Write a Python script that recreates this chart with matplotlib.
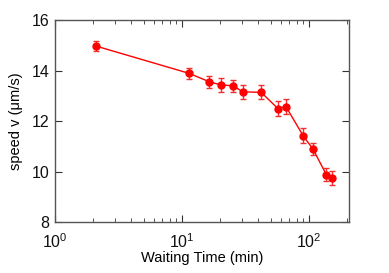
import matplotlib
matplotlib.use("Agg")
import matplotlib.pyplot as plt
from matplotlib.ticker import LogLocator, NullFormatter

plt.rcParams['font.family'] = ['Liberation Sans', 'DejaVu Sans']
plt.rcParams['mathtext.fontset'] = 'custom'
plt.rcParams['mathtext.rm'] = 'Liberation Sans'
plt.rcParams['mathtext.it'] = 'Liberation Sans'

time_min = [2.1, 11.4, 16.4, 20.4, 25.3, 30.2, 42.1, 57.0, 65.9, 90.2, 108, 137, 153]
speed = [14.97, 13.89, 13.56, 13.43, 13.40, 13.16, 13.14, 12.50, 12.58, 11.42, 10.89, 9.89, 9.76]
speed_err = [0.2, 0.23, 0.23, 0.27, 0.23, 0.28, 0.28, 0.3, 0.3, 0.3, 0.24, 0.26, 0.29]
y_ticks = [8, 10, 12, 14, 16]

fig = plt.figure(figsize=(3.89, 2.73), dpi=100)
ax = fig.add_axes([0.141, 0.185, 0.757, 0.742])

ax.errorbar(time_min, speed, yerr=speed_err, color='#ff0000', marker='o',
            markersize=5, linewidth=1.0, elinewidth=1.0, capsize=2.5, capthick=1.0,
            ecolor='#f03030')

ax.set_xscale('log')
ax.set_xlim(1, 208)
ax.set_ylim(8, 16)
ax.set_yticks(y_ticks)
ax.xaxis.set_major_locator(LogLocator(base=10))
ax.xaxis.set_minor_locator(LogLocator(base=10, subs=range(2, 10)))
ax.xaxis.set_minor_formatter(NullFormatter())

for s in ax.spines.values():
    s.set_color('#555555')
    s.set_linewidth(1.0)
ax.tick_params(which='both', direction='in', top=True, right=True, color='#333333')
ax.tick_params(which='major', length=5, labelsize=11.5, labelcolor='#111111')
ax.tick_params(axis='y', which='major', pad=4)
ax.tick_params(axis='x', which='major', pad=7)
ax.tick_params(which='minor', length=3)

ax.set_xlabel('Waiting Time (min)', fontsize=10.5, labelpad=0)
ax.set_ylabel('speed v (μm/s)', fontsize=10.5, labelpad=6)

fig.savefig('out.png', dpi=100)
